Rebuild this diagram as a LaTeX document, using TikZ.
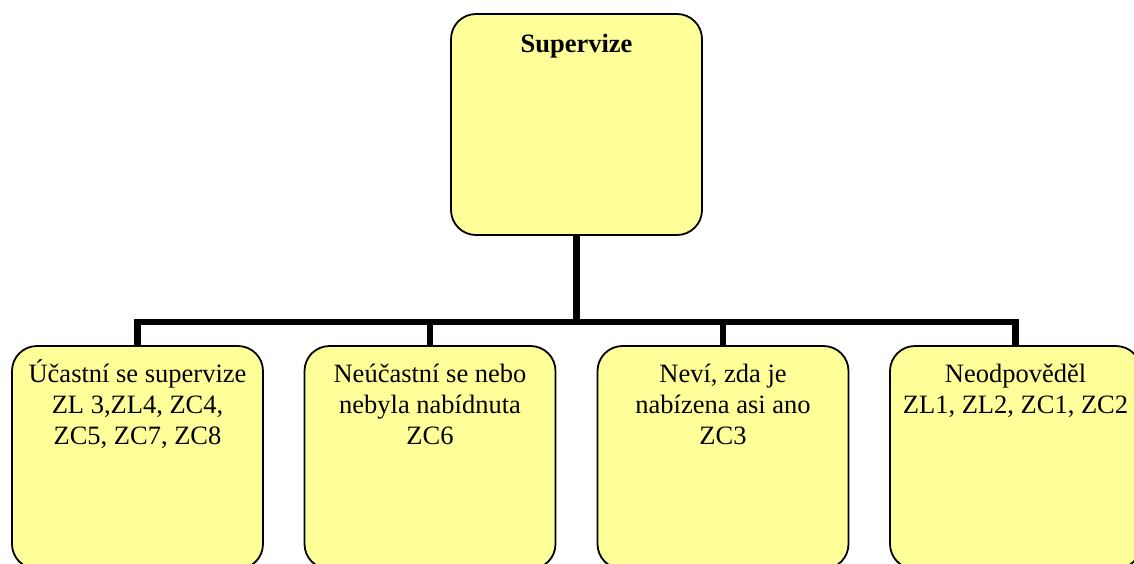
\documentclass[tikz,border=0pt]{standalone}
\usepackage{fontspec}
\setmainfont{Liberation Serif}
\begin{document}
\begin{tikzpicture}[x=1pt,y=-1pt,
  box/.style={draw=black, line width=1.8pt, fill=boxfill, rounded corners=25pt,
    minimum width=251pt, inner sep=0pt, outer sep=0pt},
  label text/.style={align=center, inner sep=0pt, font=\fontsize{26.5}{31}\selectfont, anchor=base},
  conn/.style={draw=black, line width=6.5pt, line join=miter}]
\definecolor{boxfill}{RGB}{255,255,153}
\useasboundingbox (0,0) rectangle (1134,563);
\clip (0,0) rectangle (1134,563);

% level of the horizontal bus
\coordinate (bus) at (576,322);

% invisible frames, used to route the connectors underneath the boxes
\node[box, minimum height=221pt, draw=none, fill=none] (top) at (576.5,124.5) {};
\node[box, minimum height=223pt, draw=none, fill=none] (b1) at (137.5,457.5) {};
\node[box, minimum height=223pt, draw=none, fill=none] (b2) at (430,457.5) {};
\node[box, minimum height=223pt, draw=none, fill=none] (b3) at (723,457.5) {};
\node[box, minimum height=223pt, draw=none, fill=none] (b4) at (1015.5,457.5) {};

\path[conn] (top.south) -- (top.south |- bus);
\path[conn] (b1.north) -- (b1.north |- bus) -- (b4.north |- bus) -- (b4.north);
\path[conn] (b2.north |- bus) -- (b2.north);
\path[conn] (b3.north |- bus) -- (b3.north);

% the rounded boxes
\node[box, minimum height=221pt] (topbox) at (top) {};
\node[box, minimum height=223pt] (box1) at (b1) {};
\node[box, minimum height=223pt] (box2) at (b2) {};
\node[box, minimum height=223pt] (box3) at (b3) {};
\node[box, minimum height=223pt] (box4) at (b4) {};

% texts (anchored at the baseline of their last line)
\node[label text, font=\fontsize{26.5}{31}\selectfont\bfseries] (ttop) at ([yshift=-38pt]topbox.north) {Supervize};
\node[label text] (t1) at ([yshift=-98pt]box1.north) {Účastní se supervize\\ZL 3,ZL4, ZC4,\\ZC5, ZC7, ZC8};
\node[label text] (t2) at ([yshift=-98pt]box2.north) {Neúčastní se nebo\\nebyla nabídnuta\\ZC6};
\node[label text] (t3) at ([yshift=-98pt]box3.north) {Neví, zda je\\nabízena asi ano\\ZC3};
\node[label text] (t4) at ([yshift=-67pt]box4.north) {Neodpověděl\\ZL1, ZL2, ZC1, ZC2};
\end{tikzpicture}
\end{document}
